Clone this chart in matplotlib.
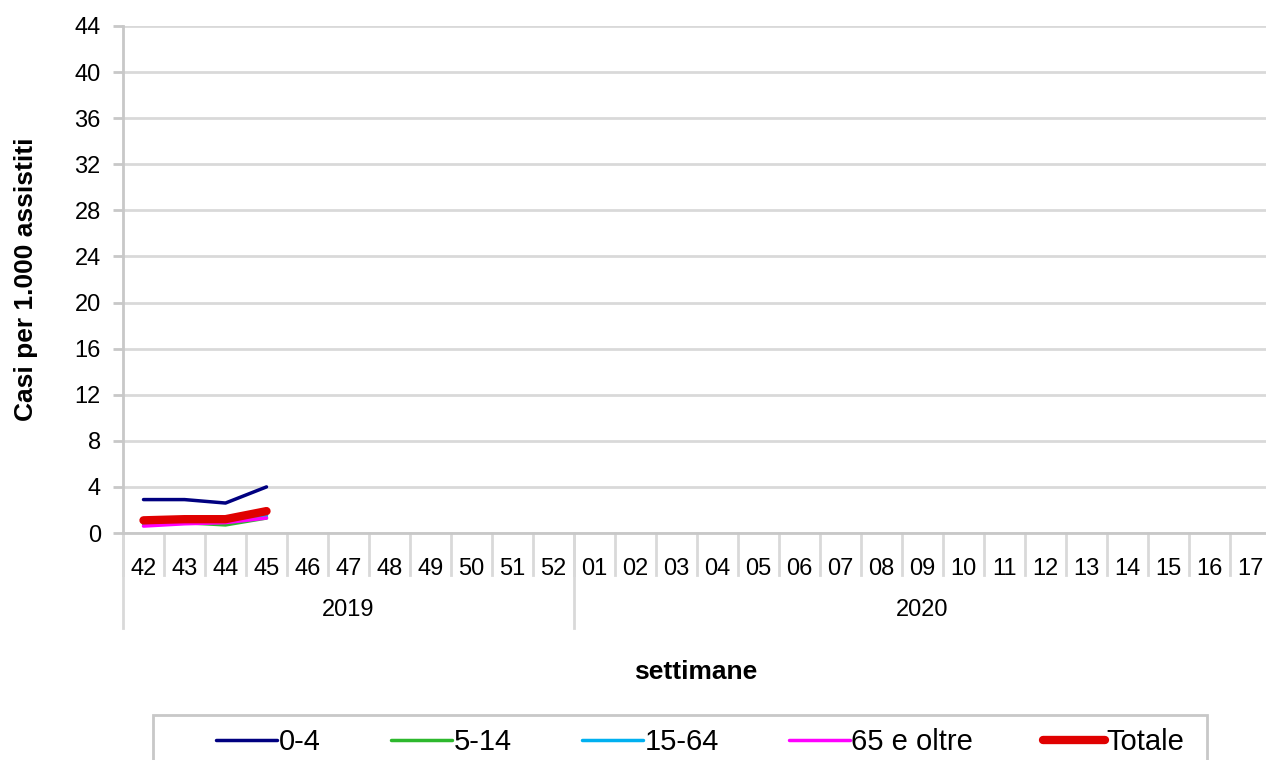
import matplotlib.pyplot as plt
import matplotlib.transforms as mtransforms
from matplotlib.patches import Rectangle

plt.rcParams['font.family'] = ['Liberation Sans', 'DejaVu Sans']

weeks = ['42', '43', '44', '45', '46', '47', '48', '49', '50', '51', '52',
         '01', '02', '03', '04', '05', '06', '07', '08', '09', '10', '11',
         '12', '13', '14', '15', '16', '17']
years = ['2019', '2020']
year_len = [11, 17]

v_0_4 = [2.9, 2.9, 2.6, 4.0]
v_5_14 = [0.8, 0.9, 0.7, 1.3]
v_15_64 = [0.9, 1.0, 1.0, 1.5]
v_65 = [0.6, 0.8, 0.9, 1.3]
v_tot = [1.1, 1.2, 1.2, 1.9]

series = [
    ('0-4', v_0_4, '#000080', 2.5),
    ('5-14', v_5_14, '#2db82d', 2.5),
    ('15-64', v_15_64, '#00b0f0', 2.5),
    ('65 e oltre', v_65, '#ff00ff', 2.5),
    ('Totale', v_tot, '#e00000', 6),
]

W, H = 1266, 760
fig = plt.figure(figsize=(W / 100, H / 100), dpi=100)
ax = fig.add_axes([123 / W, 1 - 533 / H, 1148 / W, 507 / H])

for name, vals, col, lw in series:
    ax.plot(range(len(vals)), vals, color=col, lw=lw, label=name,
            solid_capstyle='round', zorder=3)

ax.set_xlim(-0.5, len(weeks) - 0.5)
ax.set_ylim(0, 44)
ax.set_yticks(range(0, 45, 4))
ax.grid(axis='y', color='#d9d9d9', lw=2)
ax.set_axisbelow(True)
for s in ['top', 'right']:
    ax.spines[s].set_visible(False)
for s in ['left', 'bottom']:
    ax.spines[s].set_color('#c8c8c8')
    ax.spines[s].set_linewidth(2)
ax.tick_params(axis='y', length=7, width=2, color='#c8c8c8', labelsize=17, pad=9)
ax.set_xticks(range(len(weeks)))
ax.set_xticklabels(weeks)
ax.tick_params(axis='x', length=0, labelsize=17, pad=18)

trans = mtransforms.blended_transform_factory(ax.transData, ax.transAxes)
for i in range(len(weeks) + 1):
    ax.plot([i - 0.5, i - 0.5], [0, -0.083], transform=trans, color='#d9d9d9',
            lw=2, clip_on=False)
start = -0.5
for yr, n in zip(years, year_len):
    ax.plot([start, start], [0, -0.187], transform=trans, color='#d9d9d9',
            lw=2, clip_on=False)
    ax.text(start + n / 2, -0.152, yr, transform=trans, ha='center', va='center',
            fontsize=17)
    start += n
ax.plot([start, start], [0, -0.187], transform=trans, color='#d9d9d9',
        lw=2, clip_on=False)

fig.text(26 / W, 1 - 279 / H, 'Casi per 1.000 assistiti', rotation=90,
         ha='center', va='center', fontsize=19, fontweight='bold')
fig.text(696 / W, 1 - 672 / H, 'settimane', ha='center', va='center',
         fontsize=19, fontweight='bold')

fig.patches.append(Rectangle((153 / W, -0.1), (1207 - 153) / W, 0.1 + 1 - 715 / H,
                             transform=fig.transFigure, fill=False,
                             edgecolor='#c8c8c8', lw=2))
leg = fig.legend(loc='center', bbox_to_anchor=(700 / W, 1 - 742 / H),
                 ncol=5, frameon=False, fontsize=21,
                 handlelength=2.1, handletextpad=0.05, columnspacing=2.4)

fig.savefig('out.png', dpi=100)
